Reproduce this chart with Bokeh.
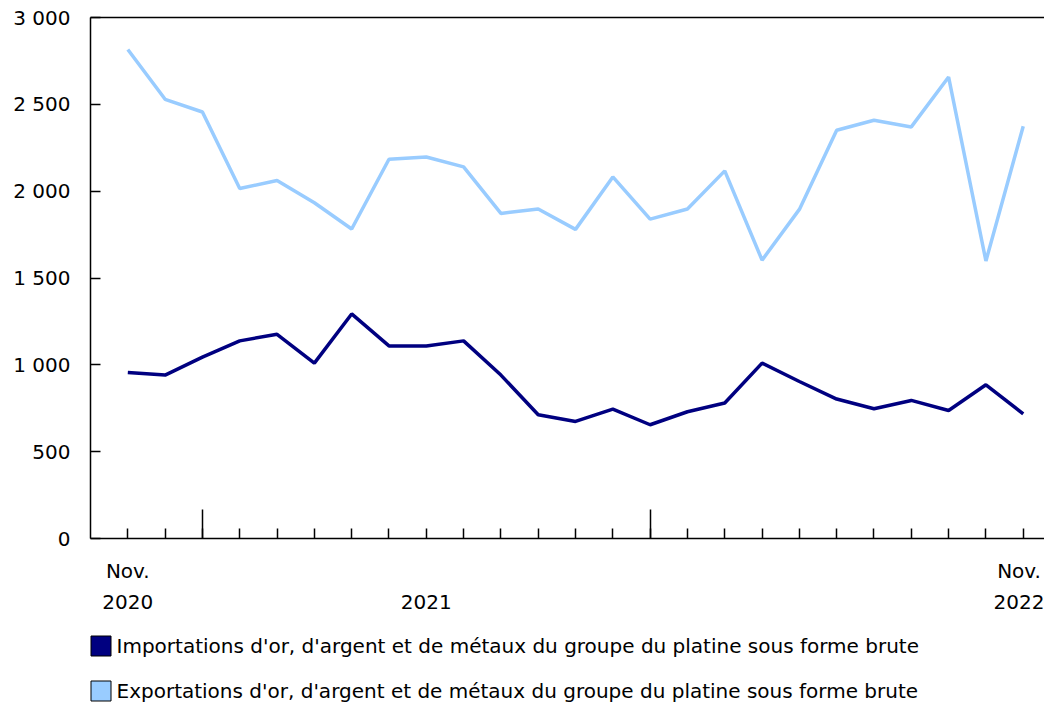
from bokeh.plotting import figure
from bokeh.layouts import column
from bokeh.models import (Range1d, LinearAxis, FixedTicker, Legend, LegendItem,
                          ColumnDataSource)
from bokeh.embed import file_html
from bokeh.resources import INLINE

# ---- data ----
months = list(range(25))  # Nov 2020 .. Nov 2022
imports = [956, 941, 1044, 1138, 1176, 1010, 1293, 1109, 1109, 1138, 941, 713,
           674, 745, 655, 730, 780, 1010, 904, 803, 747, 795, 737, 885, 718]
exports = [2816, 2529, 2456, 2015, 2061, 1933, 1782, 2184, 2197, 2140, 1872, 1897,
           1780, 2082, 1839, 1897, 2117, 1603, 1895, 2351, 2408, 2370, 2657, 1598, 2374]
year_start_ticks = [2, 14]
x_label_ticks = [0, 8, 24]
x_labels = ["Nov.\n2020", "\n2021", "Nov.\n2022"]
y_ticks = [0, 500, 1000, 1500, 2000, 2500, 3000]
y_labels = ["0", "500", "1 000", "1 500", "2 000", "2 500", "3 000"]
names = ["Importations d'or, d'argent et de métaux du groupe du platine sous forme brute",
         "Exportations d'or, d'argent et de métaux du groupe du platine sous forme brute"]
colors = ["#000080", "#99CCFF"]

FONT = "DejaVu Sans"
FS = "20px"
NAN = float("nan")

p = figure(width=1044, height=620, x_range=Range1d(-1.0, 24.57), y_range=Range1d(0, 3000),
           x_axis_location=None, y_axis_location=None, output_backend="svg",
           toolbar_location=None, min_border_left=90, min_border_top=17,
           min_border_right=0, min_border_bottom=82)
p.outline_line_color = None
p.grid.grid_line_color = None
p.background_fill_color = "white"
p.border_fill_color = "white"

src = ColumnDataSource(dict(x=months, imp=imports, exp=exports))
p.line("x", "exp", source=src, line_color=colors[1], line_width=3.5)
p.line("x", "imp", source=src, line_color=colors[0], line_width=3.5)

# y axis
yax = LinearAxis(ticker=FixedTicker(ticks=y_ticks),
                 major_label_overrides={t: l for t, l in zip(y_ticks, y_labels)},
                 major_tick_in=10, major_tick_out=0, minor_tick_line_color=None,
                 axis_line_width=1.5, major_tick_line_width=1.5,
                 major_label_standoff=20, major_label_text_font=FONT,
                 major_label_text_font_size=FS, major_label_text_color="black")
p.add_layout(yax, "left")

# top line
top = LinearAxis(ticker=FixedTicker(ticks=[0]), major_tick_in=0, major_tick_out=0,
                 major_tick_line_color=None, minor_tick_line_color=None,
                 major_label_overrides={0: ""}, major_label_standoff=0,
                 axis_line_width=1.5, major_label_text_font_size="1px")
p.add_layout(top, "above")

# x axis: month ticks + long year-start ticks
xax1 = LinearAxis(ticker=FixedTicker(ticks=year_start_ticks, minor_ticks=months),
                  major_tick_in=29, major_tick_out=0, minor_tick_in=10, minor_tick_out=0,
                  axis_line_width=1.5, major_tick_line_width=1.5, minor_tick_line_width=1.5,
                  minor_tick_line_color="black",
                  major_label_overrides={t: "" for t in year_start_ticks},
                  major_label_standoff=0, major_label_text_font_size="1px")
p.add_layout(xax1, "below")

xax2 = LinearAxis(ticker=FixedTicker(ticks=x_label_ticks),
                  major_label_overrides={t: l for t, l in zip(x_label_ticks, x_labels)},
                  axis_line_color=None, major_tick_line_color=None, minor_tick_line_color=None,
                  major_tick_in=0, major_tick_out=0, major_label_standoff=20,
                  major_label_text_font=FONT, major_label_text_font_size=FS,
                  major_label_text_line_height=1.3, major_label_text_color="black")
p.add_layout(xax2, "below")

# legend in a separate strip below the chart
lg = figure(width=1044, height=83, x_range=Range1d(0, 1), y_range=Range1d(0, 1),
            x_axis_location=None, y_axis_location=None, output_backend="svg",
            toolbar_location=None, min_border=0)
lg.outline_line_color = None
lg.grid.grid_line_color = None
sw = []
for c in colors:
    r = lg.quad(left=[NAN], right=[NAN], top=[NAN], bottom=[NAN], fill_color=c,
                line_color="black", line_width=1)
    sw.append(r)
legend = Legend(items=[LegendItem(label=names[i], renderers=[sw[i]]) for i in range(2)],
                location=(-2.5, 0), orientation="vertical", glyph_width=25, glyph_height=25,
                label_standoff=4, label_text_font=FONT, label_text_font_size=FS,
                label_text_color="black",
                spacing=20, padding=0, margin=0, border_line_color=None,
                background_fill_alpha=0)
lg.add_layout(legend)

layout = column(p, lg, spacing=0)
open("out.html", "w").write(file_html(layout, INLINE))
